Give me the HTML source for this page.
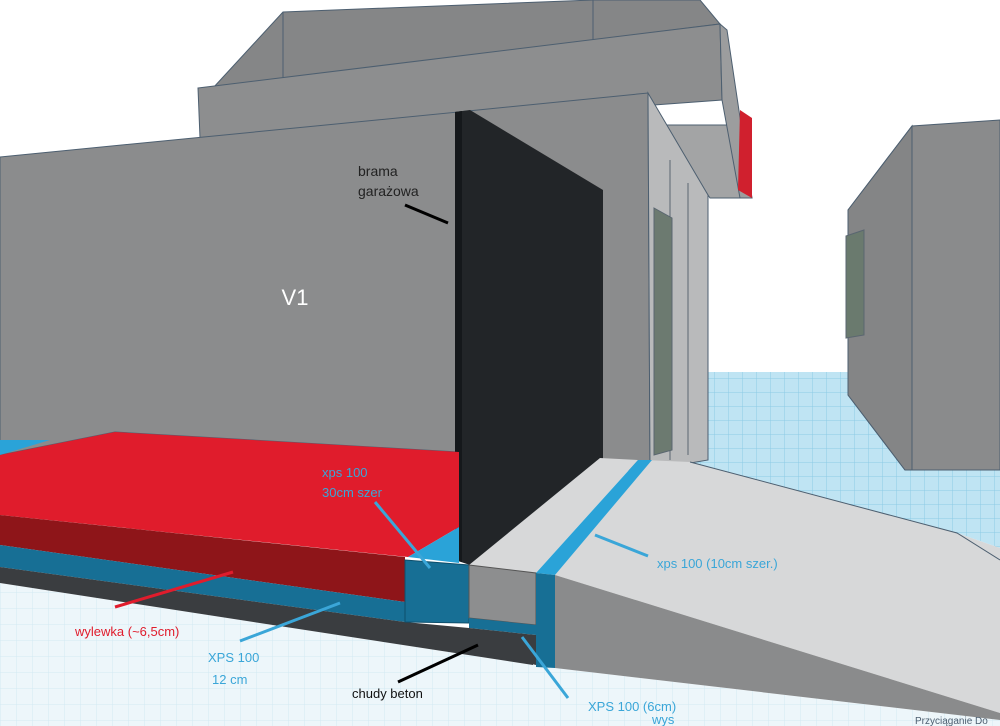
<!DOCTYPE html>
<html><head><meta charset="utf-8"><style>
html,body{margin:0;padding:0;background:#fff;width:1000px;height:726px;overflow:hidden}
text{font-family:"Liberation Sans Narrow","Liberation Sans",sans-serif}
</style></head><body>
<svg width="1000" height="726" viewBox="0 0 1000 726" xmlns="http://www.w3.org/2000/svg">
<defs>
<pattern id="g" width="14" height="14" patternUnits="userSpaceOnUse">
<rect width="14" height="14" fill="#bfe4f3"/>
<path d="M0 0H14M0 0V14" stroke="#8ccbe6" stroke-width="1"/>
</pattern>
<pattern id="g2" width="16" height="16" patternUnits="userSpaceOnUse">
<rect width="16" height="16" fill="#edf6fa"/>
<path d="M0 0H16M0 0V16" stroke="#d2e9f3" stroke-width="1"/>
</pattern>
</defs>
<rect width="1000" height="726" fill="#fff"/>
<polygon points="708,372 848,372 848,395 905,470 1000,470 1000,548 957,533 690,462 680,462" fill="url(#g)"/>
<polygon points="0,583 533,665 555,668 1000,720 1000,726 0,726" fill="url(#g2)"/>
<polygon points="848,210 912,126 1000,120 1000,470 905,470 848,395" fill="#8a8b8c" stroke="#4d5f70" stroke-width="1"/>
<polygon points="848,210 912,126 912,470 905,470 848,395" fill="#848586" stroke="#4d5f70"/>
<polygon points="846,236 864,230 864,335 846,338" fill="#6a7a6e" stroke="#5a6670"/>
<polygon points="213,88 283,12 593,0 700,0 720,24 200,90" fill="#858687" stroke="#4d5f70"/>
<line x1="283" y1="12" x2="283" y2="82" stroke="#4d5f70"/>
<line x1="593" y1="0" x2="593" y2="40" stroke="#4d5f70"/>
<polygon points="198,88 720,24 722,100 200,138" fill="#8d8e8f" stroke="#4d5f70"/>
<polygon points="660,125 730,125 752,198 710,198" fill="#a3a4a5" stroke="#4d5f70"/>
<polygon points="720,24 727,30 752,198 740,198 722,100" fill="#9c9d9e" stroke="#4d5f70"/>
<polygon points="740,110 752,118 752,198 738,190" fill="#d0202e"/>
<polygon points="0,157 458,112 458,452 115,432 0,455" fill="#8b8c8d" stroke="#4d5f70"/>
<polygon points="458,112 648,93 650,470 458,470" fill="#8b8c8d" stroke="#4d5f70"/>
<polygon points="648,93 708,195 708,460 650,470" fill="#b9babb" stroke="#4d5f70"/>
<line x1="670" y1="160" x2="670" y2="460" stroke="#5a6670"/>
<line x1="688" y1="183" x2="688" y2="455" stroke="#5a6670"/>
<polygon points="654,208 672,218 672,450 654,455" fill="#6c7a70" stroke="#5a6670"/>
<polygon points="455,112 470,110 603,190 603,460 470,565 455,560" fill="#222528"/>
<polygon points="455,112 462,111 462,562 455,560" fill="#15181b"/>
<polygon points="0,440 50,440 0,455" fill="#2aa3d8"/>
<polygon points="0,455 115,432 459,452 459,527 408,557 0,515" fill="#e01c2c"/>
<polygon points="0,515 405,557 405,602 0,545" fill="#8e1519"/>
<polygon points="0,545 405,602 405,622 0,567" fill="#176f95"/>
<polygon points="0,567 405,622 469,628 533,653 533,665 0,583" fill="#3a3d40"/>
<polygon points="408,557 459,527 459,563" fill="#2aa3d8"/>
<polygon points="405,560 469,565 469,623 405,622" fill="#176f95" stroke="#0e4f6c"/>
<polygon points="469,565 600,458 638,460 536,573" fill="#d7d8d9"/>
<polygon points="469,565 536,573 536,625 469,618" fill="#8d8e8f" stroke="#555"/>
<polygon points="469,618 536,625 536,635 469,628" fill="#176f95"/>
<polygon points="469,628 536,635 536,665 469,650" fill="#3a3d40"/>
<polygon points="555,575 644,460 690,462 957,533 1000,548 1000,713" fill="#d7d8d9"/>
<polygon points="555,575 1000,713 1000,720 555,668" fill="#8a8b8c"/>
<polyline points="690,462 957,533 1000,560" fill="none" stroke="#4d5f70"/>
<polygon points="638,460 652,460 555,575 536,573" fill="#2aa3d8"/>
<polygon points="536,573 555,575 555,668 536,667" fill="#176f95"/>
<text x="295" y="305" fill="#fff" font-size="22" text-anchor="middle">V1</text>
<text x="358" y="176" fill="#222" font-size="14">brama</text>
<text x="358" y="196" fill="#222" font-size="14">garażowa</text>
<line x1="405" y1="205" x2="448" y2="223" stroke="#000" stroke-width="3"/>
<text x="322" y="477" fill="#3aa6d8" font-size="13">xps 100</text>
<text x="322" y="497" fill="#3aa6d8" font-size="13">30cm szer</text>
<line x1="375" y1="502" x2="430" y2="568" stroke="#3aa6d8" stroke-width="3"/>
<text x="657" y="568" fill="#3aa6d8" font-size="13">xps 100 (10cm szer.)</text>
<line x1="595" y1="535" x2="648" y2="556" stroke="#3aa6d8" stroke-width="3"/>
<text x="75" y="636" fill="#e01c2c" font-size="13">wylewka (~6,5cm)</text>
<line x1="115" y1="607" x2="233" y2="572" stroke="#e01c2c" stroke-width="3"/>
<text x="208" y="662" fill="#3aa6d8" font-size="13">XPS 100</text>
<text x="212" y="684" fill="#3aa6d8" font-size="13">12 cm</text>
<line x1="240" y1="641" x2="340" y2="603" stroke="#3aa6d8" stroke-width="3"/>
<text x="352" y="698" fill="#111" font-size="13">chudy beton</text>
<line x1="398" y1="682" x2="478" y2="645" stroke="#000" stroke-width="3"/>
<text x="588" y="711" fill="#3aa6d8" font-size="13">XPS 100 (6cm)</text>
<text x="652" y="724" fill="#3aa6d8" font-size="13">wys</text>
<line x1="522" y1="637" x2="568" y2="698" stroke="#3aa6d8" stroke-width="3"/>
<text x="915" y="724" fill="#4d5f70" font-size="10">Przyciąganie Do</text>
</svg>
</body></html>
